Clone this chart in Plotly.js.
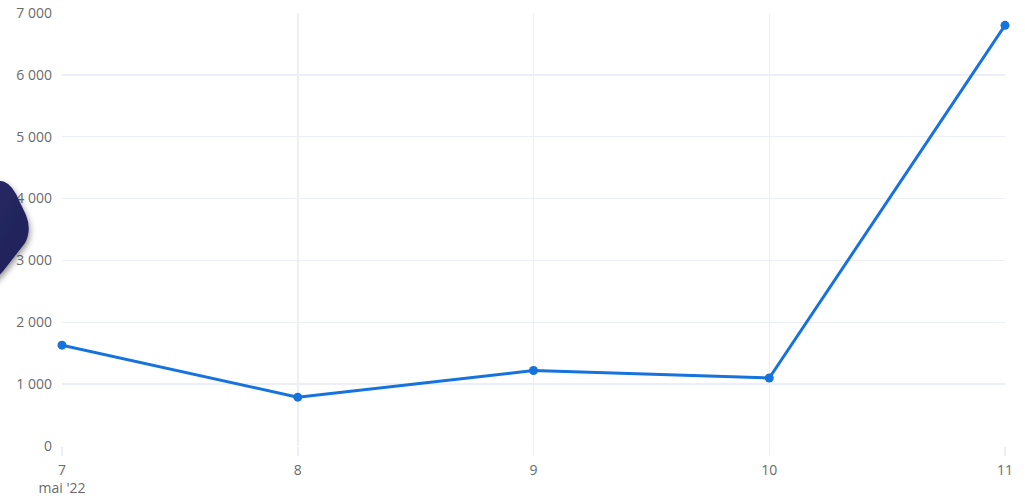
<!DOCTYPE html>
<html>
<head>
<meta charset="utf-8">
<script src="https://cdn.plot.ly/plotly-3.0.1.min.js"></script>
<style>
html,body{margin:0;padding:0;background:#fff;}
#wrap{position:relative;width:1025px;height:504px;}
#chart{width:1025px;height:504px;}
#blob{position:absolute;left:0;top:0;pointer-events:none;}
</style>
</head>
<body>
<div id="wrap">
<div id="chart"></div>
<svg id="blob" width="120" height="320" viewBox="0 0 120 320">
  <defs>
    <filter id="sh" x="-50%" y="-50%" width="200%" height="200%">
      <feDropShadow dx="1" dy="3" stdDeviation="3" flood-color="#000" flood-opacity="0.45"/>
    </filter>
    <linearGradient id="g" x1="0" y1="0" x2="1" y2="1">
      <stop offset="0" stop-color="#2a2b6a"/>
      <stop offset="1" stop-color="#1f2055"/>
    </linearGradient>
  </defs>
  <path d="M -40 176 L -4 181 Q 8 179 16 194 L 26 215 Q 32 230 25 243 L 4 270 Q -4 280 -20 290 Z" fill="url(#g)" filter="url(#sh)"/>
</svg>
</div>
<script>
var dates = ["2022-05-07", "2022-05-08", "2022-05-09", "2022-05-10", "2022-05-11"];
var values = [1630, 790, 1220, 1100, 6800];
var tickLabels = ["7<br>mai '22", "8", "9", "10", "11"];
var yTicks = [0, 1000, 2000, 3000, 4000, 5000, 6000, 7000];

var grid = "#eceff5";
var trace = {
  x: dates,
  y: values,
  type: "scatter",
  mode: "lines+markers",
  cliponaxis: false,
  line: {color: "#1672dd", width: 3},
  marker: {color: "#1672dd", size: 9},
  hoverinfo: "x+y"
};
var layout = {
  width: 1025,
  height: 504,
  margin: {l: 62, r: 20, t: 13, b: 58},
  paper_bgcolor: "#fff",
  plot_bgcolor: "#fff",
  separators: ", ",
  showlegend: false,
  font: {family: "Open Sans, sans-serif", size: 14, color: "#6b6b6b"},
  xaxis: {
    type: "date",
    range: [dates[0], dates[dates.length - 1]],
    tickmode: "array",
    tickvals: dates,
    ticktext: tickLabels,
    showgrid: true,
    gridcolor: grid,
    gridwidth: 1.5,
    ticks: "outside",
    ticklen: 9,
    tickcolor: grid,
    tickwidth: 1.5,
    ticklabelstandoff: 2,
    zeroline: false,
    showline: false,
    tickfont: {size: 14, color: "#6b6b6b"}
  },
  yaxis: {
    range: [0, 7000],
    tickmode: "array",
    tickvals: yTicks,
    tickformat: ",d",
    showgrid: true,
    gridcolor: grid,
    gridwidth: 1.5,
    zeroline: false,
    ticks: "",
    ticklabelstandoff: 9,
    tickfont: {size: 14, color: "#6b6b6b"}
  }
};
Plotly.newPlot("chart", [trace], layout, {displayModeBar: false, staticPlot: true});
</script>
</body>
</html>
